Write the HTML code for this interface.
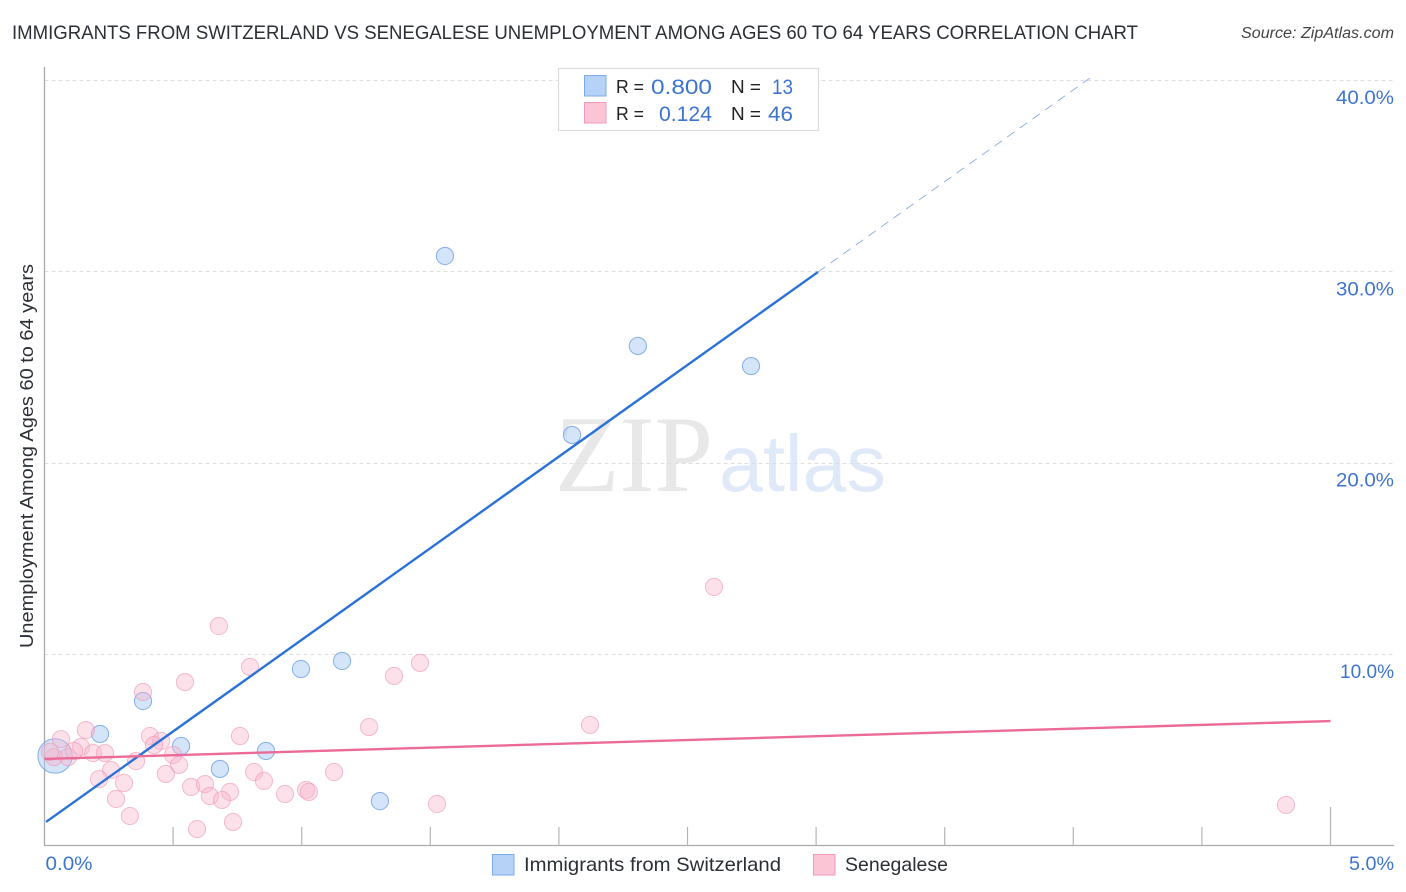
<!DOCTYPE html>
<html lang="en">
<head>
<meta charset="utf-8">
<title>Immigrants from Switzerland vs Senegalese Unemployment Correlation Chart</title>
<style>
html,body{margin:0;padding:0;background:#fff;}
svg{display:block;font-family:"Liberation Sans",sans-serif;}
</style>
</head>
<body>
<svg id="chart" width="1406" height="892" viewBox="0 0 1406 892" xmlns="http://www.w3.org/2000/svg">
  <rect width="1406" height="892" fill="#fff"/>
  <text x="12" y="39" font-size="19.5" fill="#2b2f36" textLength="1126" lengthAdjust="spacingAndGlyphs">IMMIGRANTS FROM SWITZERLAND VS SENEGALESE UNEMPLOYMENT AMONG AGES 60 TO 64 YEARS CORRELATION CHART</text>
  <text x="1241" y="38" font-size="15.5" font-style="italic" fill="#444" textLength="153" lengthAdjust="spacingAndGlyphs">Source: ZipAtlas.com</text>
  <text x="555" y="491" font-family="'Liberation Serif',serif" font-size="109" fill="#e8e8e8" textLength="158" lengthAdjust="spacingAndGlyphs">ZIP</text>
  <text x="719" y="491" font-size="80" fill="#dfe9f8" textLength="167" lengthAdjust="spacingAndGlyphs">atlas</text>
  <g id="grid"></g>
  <g id="axes"></g>
  <g id="points"></g>
  <g id="trends"></g>
  <text transform="translate(33,456) rotate(-90)" font-size="18.5" fill="#2b2f36" text-anchor="middle" textLength="384" lengthAdjust="spacingAndGlyphs">Unemployment Among Ages 60 to 64 years</text>
  <g id="stats-legend">
    <rect x="558.5" y="68.5" width="260" height="62" fill="#fff" fill-opacity="0.9" stroke="#dcdcdc" stroke-width="1.2"/>
    <rect x="584.5" y="75.5" width="21.5" height="20.5" fill="#b7d2f7" stroke="#7eaae8"/>
    <rect x="584.5" y="102.5" width="21.5" height="20.5" fill="#fcc5d6" stroke="#f29ab8"/>
    <text x="616" y="93" font-size="18" fill="#222" textLength="28" lengthAdjust="spacingAndGlyphs">R =</text>
    <text x="651" y="94" font-size="21" fill="#3d74cf" textLength="61" lengthAdjust="spacingAndGlyphs">0.800</text>
    <text x="731" y="93" font-size="18" fill="#222" textLength="30" lengthAdjust="spacingAndGlyphs">N =</text>
    <text x="772" y="94" font-size="21" fill="#3d74cf" textLength="21" lengthAdjust="spacingAndGlyphs">13</text>
    <text x="616" y="120" font-size="18" fill="#222" textLength="28" lengthAdjust="spacingAndGlyphs">R =</text>
    <text x="659" y="121" font-size="21" fill="#3d74cf" textLength="53" lengthAdjust="spacingAndGlyphs">0.124</text>
    <text x="731" y="120" font-size="18" fill="#222" textLength="30" lengthAdjust="spacingAndGlyphs">N =</text>
    <text x="768" y="121" font-size="21" fill="#3d74cf" textLength="25" lengthAdjust="spacingAndGlyphs">46</text>
  </g>
  <g id="bottom-legend">
    <rect x="492.5" y="854.5" width="21.5" height="20.5" fill="#b7d2f7" stroke="#7eaae8"/>
    <text x="524" y="871" font-size="19.5" fill="#2b2f36" textLength="257" lengthAdjust="spacingAndGlyphs">Immigrants from Switzerland</text>
    <rect x="813.5" y="854.5" width="21.5" height="20.5" fill="#fcc5d6" stroke="#f29ab8"/>
    <text x="845" y="871" font-size="19.5" fill="#2b2f36" textLength="103" lengthAdjust="spacingAndGlyphs">Senegalese</text>
  </g>
</svg>
<script>
var yTickValues = [10, 20, 30, 40];
var yTickLabels = ["10.0%", "20.0%", "30.0%", "40.0%"];
var xTickValues = [0.5, 1, 1.5, 2, 2.5, 3, 3.5, 4, 4.5, 5];
var xEndValues = [0, 5];
var xEndLabels = ["0.0%", "5.0%"];

var swissX = [0.041, 0.216, 0.383, 0.531, 0.682, 0.861, 0.997, 1.157, 1.304, 1.557, 2.051, 2.307, 2.747];
var swissY = [4.68, 5.83, 7.55, 5.20, 4.00, 4.94, 9.22, 9.64, 2.32, 30.80, 21.45, 26.10, 25.05];
var swissWeight = [4, 1, 1, 1, 1, 1, 1, 1, 1, 1, 1, 1, 1];

var senegalX = [0.064, 0.161, 0.142, 0.037, 0.021, 0.091, 0.189, 0.235, 0.356, 0.259, 0.212, 0.309, 0.278, 0.332, 0.410, 0.453, 0.426, 0.500, 0.523, 0.472, 0.383, 0.546, 0.799, 1.359, 1.460, 1.262, 0.760, 0.815, 0.853, 1.126, 0.935, 1.017, 1.028, 1.526, 0.570, 0.624, 0.643, 0.721, 0.690, 0.733, 0.593, 0.678, 2.121, 2.603, 4.827, 0.115];
var senegalY = [5.56, 6.03, 5.15, 4.62, 4.89, 4.62, 4.83, 4.83, 4.41, 3.94, 3.47, 3.27, 2.43, 1.54, 5.72, 5.46, 5.25, 4.73, 4.21, 3.74, 8.02, 8.54, 9.33, 8.86, 9.54, 6.19, 5.72, 3.84, 3.37, 3.84, 2.69, 2.90, 2.80, 2.17, 3.06, 3.21, 2.59, 2.80, 2.38, 1.23, 0.86, 11.47, 6.30, 13.51, 2.12, 4.94];

var swissTrendX = [0.006, 3.007];
var swissTrendY = [1.23, 29.96];
var swissDashX = [3.007, 4.065];
var swissDashY = [29.96, 40.1];
var senegalTrendX = [0, 5];
var senegalTrendY = [4.52, 6.50];

var SVGNS = "http://www.w3.org/2000/svg";
function xScale(v) { return 44.5 + v * 257.2; }
function yScale(v) { return 845.5 - v * 19.14; }
function make(tag, parent, attrs) {
  var el = document.createElementNS(SVGNS, tag);
  for (var k in attrs) { el.setAttribute(k, attrs[k]); }
  parent.appendChild(el);
  return el;
}
var gridG = document.getElementById("grid");
var axesG = document.getElementById("axes");
var pointsG = document.getElementById("points");
var trendsG = document.getElementById("trends");

yTickValues.forEach(function (v, i) {
  var gy = Math.round(yScale(v)) + 0.5;
  var line = make("line", gridG, { x1: 44.5, x2: 1394, y1: gy, y2: gy, stroke: "#dedede", "stroke-width": 1, "stroke-dasharray": "4 3" });
  
  
  var label = make("text", axesG, { x: 1394, y: yScale(v) + 24, "font-size": 19.5, fill: "#3d74cf", "text-anchor": "end", textLength: i === 0 ? 54 : 58, lengthAdjust: "spacingAndGlyphs" });
  label.textContent = yTickLabels[i];
  
  
});

var yAxis = make("line", axesG, { x1: 44.5, x2: 44.5, y1: 67, y2: 846, stroke: "#aaa", "stroke-width": 1.3 });


var xAxis = make("line", axesG, { x1: 44, x2: 1394, y1: 845.5, y2: 845.5, stroke: "#aaa", "stroke-width": 1.3 });



xTickValues.forEach(function (v, i) {
  var top = i === xTickValues.length - 1 ? 807 : 827;
  var tick = make("line", axesG, { x1: xScale(v), x2: xScale(v), y1: top, y2: 845.5, stroke: "#b5b5b5", "stroke-width": 1.2 });
  
  
});

xEndValues.forEach(function (v, i) {
  var isLast = i === xEndValues.length - 1;
  var label = make("text", axesG, { x: isLast ? 1349 : xScale(v) + 1, y: 870, "font-size": 19.5, fill: "#3d74cf", textLength: isLast ? 45 : 47, lengthAdjust: "spacingAndGlyphs" });
  label.textContent = xEndLabels[i];
  
  
});

swissX.forEach(function (v, i) {
  var dot = make("circle", pointsG, { cx: xScale(v), cy: yScale(swissY[i]), r: 8.6 * Math.sqrt(swissWeight[i]), fill: "#a9c9f3", "fill-opacity": 0.5, stroke: "#6a9fe2", "stroke-opacity": 0.8, "stroke-width": 1 });
  
  
});
senegalX.forEach(function (v, i) {
  var dot = make("circle", pointsG, { cx: xScale(v), cy: yScale(senegalY[i]), r: 8.6, fill: "#f9b6cc", "fill-opacity": 0.42, stroke: "#ef94b3", "stroke-opacity": 0.6, "stroke-width": 1 });
  
  
});

var swissLine = make("line", trendsG, { x1: xScale(swissTrendX[0]), y1: yScale(swissTrendY[0]), x2: xScale(swissTrendX[1]), y2: yScale(swissTrendY[1]), stroke: "#2b72d6", "stroke-width": 2.4 });


var swissDash = make("line", trendsG, { x1: xScale(swissDashX[0]), y1: yScale(swissDashY[0]), x2: xScale(swissDashX[1]), y2: yScale(swissDashY[1]), stroke: "#7a9fe0", "stroke-width": 0.8, "stroke-dasharray": "9 6.5" });


var senegalLine = make("line", trendsG, { x1: xScale(senegalTrendX[0]), y1: yScale(senegalTrendY[0]), x2: xScale(senegalTrendX[1]), y2: yScale(senegalTrendY[1]), stroke: "#ec6a97", "stroke-width": 2.4 });


</script>
</body>
</html>
